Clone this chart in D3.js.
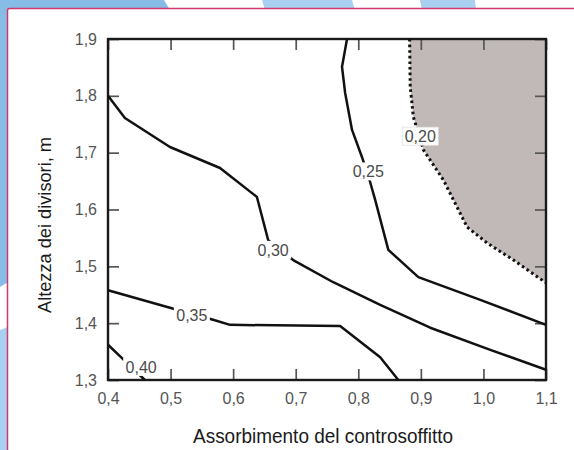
<!DOCTYPE html>
<html>
<head>
<meta charset="utf-8">
<script src="https://cdn.jsdelivr.net/npm/d3@7"></script>
<style>
    body { margin: 0; background: #ffffff; }
    svg { display: block; font-family: "Liberation Sans", Arial, sans-serif; }
</style>
</head>
<body>
<svg id="chart" width="574" height="450"></svg>
<script>
// Tick values and their labels
let xTicks = [0.4, 0.5, 0.6, 0.7, 0.8, 0.9, 1.0, 1.1];
let yTicks = [1.3, 1.4, 1.5, 1.6, 1.7, 1.8, 1.9];
let xTickLabels = ["0,4", "0,5", "0,6", "0,7", "0,8", "0,9", "1,0", "1,1"];
let yTickLabels = ["1,3", "1,4", "1,5", "1,6", "1,7", "1,8", "1,9"];

// Contour lines [absorption, height]
let line020 = [[0.882, 1.9], [0.883, 1.816], [0.888, 1.763], [0.904, 1.705], [0.936, 1.652],
               [0.952, 1.617], [0.974, 1.569], [1.006, 1.541], [1.048, 1.511], [1.1, 1.471]];
let line025 = [[0.782, 1.9], [0.774, 1.851], [0.779, 1.805], [0.790, 1.740], [0.806, 1.692],
               [0.819, 1.648], [0.827, 1.617], [0.848, 1.529], [0.896, 1.481], [0.995, 1.441],
               [1.1, 1.397]];
let line030 = [[0.4, 1.8], [0.427, 1.761], [0.499, 1.710], [0.579, 1.673], [0.638, 1.622],
               [0.656, 1.546], [0.696, 1.511], [0.76, 1.472], [0.835, 1.432], [0.915, 1.392],
               [1.011, 1.353], [1.1, 1.318]];
let line035 = [[0.4, 1.458], [0.499, 1.427], [0.568, 1.406], [0.595, 1.397], [0.771, 1.395],
               [0.835, 1.340], [0.864, 1.3]];
let line040 = [[0.4, 1.362], [0.419, 1.342], [0.459, 1.3]];

// Contour labels
let contourLabels = ["0,40", "0,35", "0,30", "0,25", "0,20"];
let labelPoints = [[0.453, 1.323], [0.534, 1.414], [0.664, 1.529], [0.816, 1.667], [0.899, 1.729]];

let svg = d3.select("#chart");
let frame = {left: 108, top: 39, right: 546, bottom: 380};

let x = d3.scaleLinear().domain([0.4, 1.1]).range([frame.left, frame.right]);
let y = d3.scaleLinear().domain([1.3, 1.9]).range([frame.bottom, frame.top]);
let line = d3.line().x(d => x(d[0])).y(d => y(d[1]));

drawBackground();
drawShadedRegion();
drawAxes();
drawContours();
drawLabels();
drawTitles();

// Page decoration behind the white card
function drawBackground() {
    let bg = svg.append("g");
    bg.append("path").attr("fill", "#86bce6")
      .attr("d", "M0,0 L164,0 L170,10 L7,10 L7,283 C4,284 2,286 0,287 Z");
    bg.append("path").attr("fill", "#a9d0f0")
      .attr("d", "M262,0 L352,0 L355,10 L265,10 Z");
    bg.append("path").attr("fill", "#a9d0f0")
      .attr("d", "M420,0 L475,0 L476,10 L422,10 Z");
    bg.append("path").attr("fill", "#a9d0f0")
      .attr("d", "M0,330 C3,329 5,328 8,327 L8,450 L0,450 Z");
    bg.append("rect")
      .attr("x", 7.5).attr("y", 8.5)
      .attr("width", 590).attr("height", 470)
      .attr("rx", 2)
      .attr("fill", "#ffffff")
      .attr("stroke", "#d2386b")
      .attr("stroke-width", 1.5);
}

// Grey area beyond the 0,20 curve
function drawShadedRegion() {
    let area = line020.concat([[1.1, 1.9]]);
    svg.append("path")
       .attr("d", line(area) + "Z")
       .attr("fill", "#c0b9b8");
}

function drawAxes() {
    let tickColor = "#555";

    svg.append("g")
       .attr("transform", `translate(0,${frame.bottom})`)
       .call(d3.axisBottom(x).tickValues(xTicks).tickSize(-11).tickPadding(13)
               .tickFormat((d, i) => xTickLabels[i]))
       .call(styleAxis);

    svg.append("g")
       .attr("transform", `translate(${frame.left},0)`)
       .call(d3.axisLeft(y).tickValues(yTicks).tickSize(-11).tickPadding(11)
               .tickFormat((d, i) => yTickLabels[i]))
       .call(styleAxis);

    svg.append("g")
       .attr("transform", `translate(0,${frame.top})`)
       .call(d3.axisTop(x).tickValues(xTicks).tickSize(-11).tickFormat(""))
       .call(styleAxis);

    svg.append("g")
       .attr("transform", `translate(${frame.right},0)`)
       .call(d3.axisRight(y).tickValues(yTicks).tickSize(-11).tickFormat(""))
       .call(styleAxis);

    function styleAxis(g) {
        g.select(".domain").remove();
        g.selectAll(".tick line").attr("stroke", tickColor).attr("stroke-width", 1.7);
        g.selectAll(".tick text")
         .attr("font-size", 16)
         .attr("font-family", "'Liberation Sans', Arial, sans-serif")
         .attr("fill", "#555");
    }

    // Plot frame
    svg.append("rect")
       .attr("x", frame.left).attr("y", frame.top)
       .attr("width", frame.right - frame.left)
       .attr("height", frame.bottom - frame.top)
       .attr("fill", "none")
       .attr("stroke", "#1a1a1a")
       .attr("stroke-width", 2.4);
}

function drawContours() {
    svg.append("path")
       .attr("d", line(line020))
       .attr("fill", "none")
       .attr("stroke", "#111")
       .attr("stroke-width", 3)
       .attr("stroke-dasharray", "2.6,3");

    [line025, line030, line035, line040].forEach(pts => {
        svg.append("path")
           .attr("d", line(pts))
           .attr("fill", "none")
           .attr("stroke", "#111")
           .attr("stroke-width", 2.5)
           .attr("stroke-linejoin", "round");
    });
}

// Contour values sitting on white boxes that break the lines
function drawLabels() {
    let g = svg.append("g");
    labelPoints.forEach((p, i) => {
        let boxed = i === contourLabels.length - 1;
        g.append("rect")
         .attr("x", x(p[0]) - 18).attr("y", y(p[1]) - 9)
         .attr("width", 36).attr("height", 18)
         .attr("fill", "#ffffff")
         .attr("stroke", boxed ? "#e0e0e0" : "none")
         .attr("stroke-width", 0.8);
        g.append("text")
         .attr("x", x(p[0])).attr("y", y(p[1]))
         .attr("dy", "0.36em")
         .attr("text-anchor", "middle")
         .attr("font-size", 16)
         .attr("fill", "#4a4a4a")
         .text(contourLabels[i]);
    });
}

function drawTitles() {
    svg.append("text")
       .attr("transform", "translate(51,225) rotate(-90)")
       .attr("text-anchor", "middle")
       .attr("font-size", 19)
       .attr("textLength", 176)
       .attr("lengthAdjust", "spacingAndGlyphs")
       .attr("fill", "#1a1a1a")
       .text("Altezza dei divisori, m");

    svg.append("text")
       .attr("x", 323).attr("y", 443)
       .attr("text-anchor", "middle")
       .attr("font-size", 20)
       .attr("textLength", 260)
       .attr("lengthAdjust", "spacingAndGlyphs")
       .attr("fill", "#1a1a1a")
       .text("Assorbimento del controsoffitto");
}
</script>
</body>
</html>
